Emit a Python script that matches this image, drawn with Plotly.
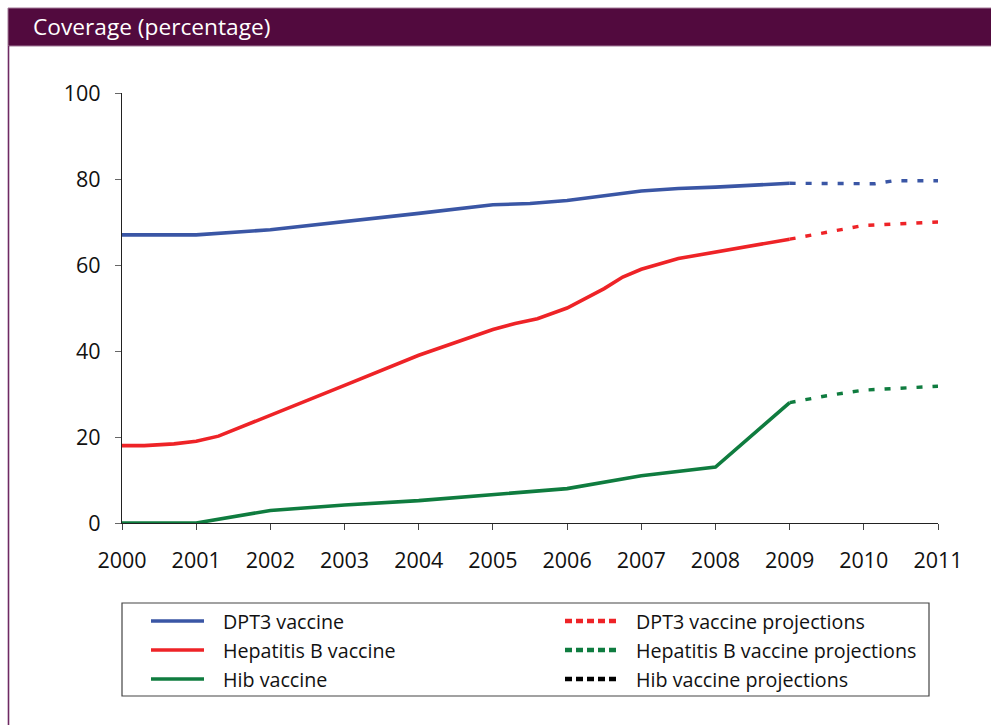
import plotly.graph_objects as go

# ---- data -------------------------------------------------------------
years_dpt3 = [2000, 2001, 2002, 2003, 2004, 2005, 2005.5, 2006, 2006.5, 2007, 2007.5, 2008, 2009]
dpt3 = [67, 67, 68.2, 70, 72, 74, 74.3, 75, 76.2, 77.2, 77.8, 78.1, 79]

years_dpt3_proj = [2009, 2009.5, 2010, 2010.15, 2010.4, 2011]
dpt3_proj = [79, 78.9, 78.9, 78.9, 79.6, 79.6]

years_hepb = [2000, 2000.3, 2000.7, 2001, 2001.3, 2002, 2003, 2004, 2004.5, 2005, 2005.3,
              2005.6, 2006, 2006.5, 2006.75, 2007, 2007.5, 2008, 2008.5, 2009]
hepb = [18, 18, 18.4, 19, 20.2, 25, 32, 39, 42.1, 45, 46.4, 47.5, 50, 54.5, 57.2,
        59, 61.5, 63, 64.7, 66]

years_hepb_proj = [2009, 2009.5, 2010, 2010.5, 2011]
hepb_proj = [66, 67.5, 69.2, 69.6, 70]

years_hib = [2000, 2001, 2002, 2003, 2004, 2005, 2006, 2007, 2008, 2009]
hib = [0, 0, 2.9, 4.2, 5.2, 6.5, 8, 11, 13, 28]

years_hib_proj = [2009, 2009.5, 2010, 2010.5, 2011]
hib_proj = [28, 29.6, 30.9, 31.3, 31.8]

x_ticks = list(range(2000, 2012))
y_ticks = [0, 20, 40, 60, 80, 100]

legend_left = ["DPT3 vaccine", "Hepatitis B vaccine", "Hib vaccine"]
legend_right = ["DPT3 vaccine projections", "Hepatitis B vaccine projections",
                "Hib vaccine projections"]

BLUE = "#3a56a5"
RED = "#ee2327"
GREEN = "#0f7c3f"
BLACK = "#000000"
PLUM = "#520a3e"
FONT = "Open Sans"

# ---- layout geometry (pixels) -----------------------------------------
W, H = 991, 725
L, R, T, B = 122, 938, 93, 523


def px(x):
    return (x - L) / (R - L)


def py(y):
    return (B - y) / (B - T)


fig = go.Figure()

solid = dict(width=3.6)
dashed = dict(width=3.4, dash="6px,10px")

fig.add_trace(go.Scatter(x=years_dpt3, y=dpt3, mode="lines",
                         line=dict(color=BLUE, **solid), cliponaxis=False))
fig.add_trace(go.Scatter(x=years_dpt3_proj, y=dpt3_proj, mode="lines",
                         line=dict(color=BLUE, **dashed), cliponaxis=False))
fig.add_trace(go.Scatter(x=years_hepb, y=hepb, mode="lines",
                         line=dict(color=RED, **solid), cliponaxis=False))
fig.add_trace(go.Scatter(x=years_hepb_proj, y=hepb_proj, mode="lines",
                         line=dict(color=RED, **dashed), cliponaxis=False))
fig.add_trace(go.Scatter(x=years_hib, y=hib, mode="lines",
                         line=dict(color=GREEN, **solid), cliponaxis=False))
fig.add_trace(go.Scatter(x=years_hib_proj, y=hib_proj, mode="lines",
                         line=dict(color=GREEN, **dashed), cliponaxis=False))

shapes = []
annotations = []

# header band with caption
shapes.append(dict(type="rect", xref="paper", yref="paper",
                   x0=px(8), x1=px(W + 2), y0=py(46), y1=py(8),
                   fillcolor=PLUM, line=dict(color="#a27a98", width=1), layer="below"))
shapes.append(dict(type="line", xref="paper", yref="paper",
                   x0=px(8.5), x1=px(8.5), y0=py(46), y1=py(H + 2),
                   line=dict(color="#6e2a63", width=1.6)))
annotations.append(dict(text="Coverage (percentage)", xref="paper", yref="paper",
                        x=px(31), y=py(27), xanchor="left", yanchor="middle",
                        showarrow=False, font=dict(family=FONT, size=22.7, color="white")))

# legend box
shapes.append(dict(type="rect", xref="paper", yref="paper",
                   x0=px(122), x1=px(929), y0=py(696), y1=py(603),
                   line=dict(color="#444444", width=1.2), fillcolor="rgba(0,0,0,0)"))
rows = [621, 650, 679]
for label, color, yy in zip(legend_left, [BLUE, RED, GREEN], rows):
    shapes.append(dict(type="line", xref="paper", yref="paper",
                       x0=px(151), x1=px(204), y0=py(yy), y1=py(yy),
                       line=dict(color=color, width=3.6)))
    annotations.append(dict(text=label, xref="paper", yref="paper",
                            x=px(221), y=py(yy), xanchor="left", yanchor="middle",
                            showarrow=False, font=dict(family=FONT, size=19.7, color="#111")))
for label, color, yy in zip(legend_right, [RED, GREEN, BLACK], rows):
    shapes.append(dict(type="line", xref="paper", yref="paper",
                       x0=px(565), x1=px(620), y0=py(yy), y1=py(yy),
                       line=dict(color=color, width=4.5, dash="7px,4px")))
    annotations.append(dict(text=label, xref="paper", yref="paper",
                            x=px(634), y=py(yy), xanchor="left", yanchor="middle",
                            showarrow=False, font=dict(family=FONT, size=19.7, color="#111")))

fig.update_layout(
    width=W, height=H,
    margin=dict(l=L, r=W - R, t=T, b=H - B),
    paper_bgcolor="white", plot_bgcolor="white",
    showlegend=False,
    shapes=shapes, annotations=annotations,
    font=dict(family=FONT, color="#111"),
)
fig.update_xaxes(range=[2000, 2011], tickvals=x_ticks, showgrid=False, zeroline=False,
                 showline=True, linecolor="#222", linewidth=1.2,
                 ticks="outside", ticklen=6, tickcolor="#444", tickwidth=1.2,
                 ticklabelstandoff=12, tickfont=dict(family=FONT, size=21.5, color="#111"))
fig.update_yaxes(range=[0, 100], tickvals=y_ticks, showgrid=False, zeroline=False,
                 showline=True, linecolor="#222", linewidth=1.2,
                 ticks="outside", ticklen=6, tickcolor="#666", tickwidth=1.2,
                 ticklabelstandoff=10, tickfont=dict(family=FONT, size=21.5, color="#111"))

fig.write_html("out.html")
